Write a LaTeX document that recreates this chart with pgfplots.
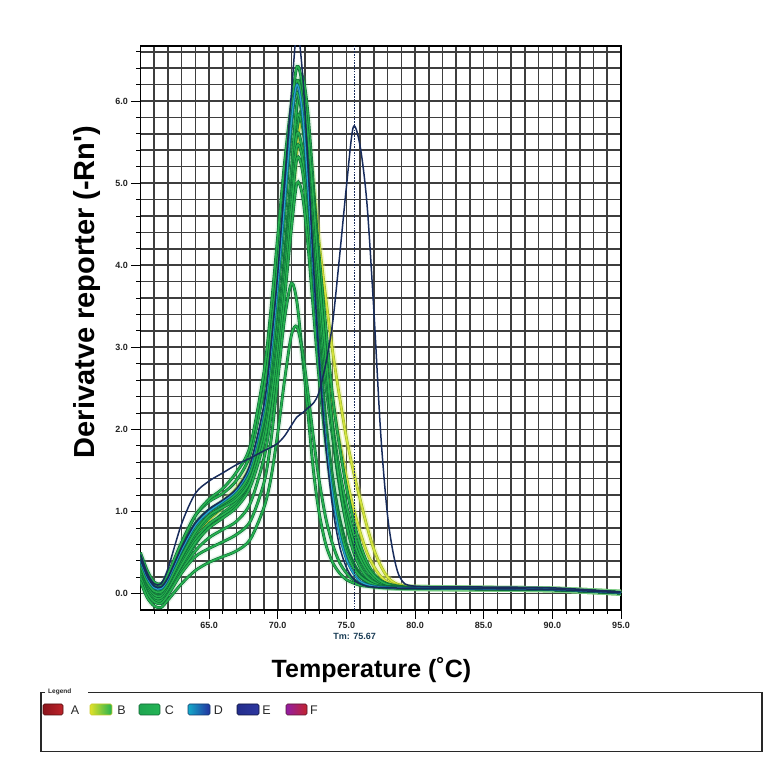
\documentclass[border=0pt]{standalone}
\usepackage{fontspec}
\setmainfont{Liberation Sans}
\usepackage{pgfplots}
\pgfplotsset{compat=1.18}
\usepackage{pgfplotstable}

\definecolor{gridc}{RGB}{62,62,62}
\definecolor{gdark}{RGB}{12,105,55}
\definecolor{glight}{RGB}{38,176,78}
\definecolor{navyc}{RGB}{24,44,92}
\definecolor{ydark}{RGB}{150,185,35}
\definecolor{ylight}{RGB}{214,226,62}
\definecolor{tdark}{RGB}{10,95,125}
\definecolor{tlight}{RGB}{40,165,205}
\definecolor{tickc}{RGB}{35,35,35}
\definecolor{tmc}{RGB}{25,60,85}
\definecolor{legc}{RGB}{40,40,40}
\definecolor{haloc}{RGB}{110,200,130}
\definecolor{haloy}{RGB}{225,230,110}

\pgfplotstableread{
x    g1    g2   g3    g4    g5    g6    g7    g8    g9    g10   g11   l1    l2    y1   y2   d1    n1    e1
60   0.45  0.30 0.40  0.25  0.50  0.20  0.35  0.42  0.28  0.38  0.22  0.20  0.15  0.30 0.35 0.40  0.42  0.48
60.5 0.25  0.12 0.18  0.05  0.28  0.02  0.14  0.20  0.08  0.17  0.02  0.00  -0.05 0.10 0.14 0.19  0.21  0.25
61   0.12  0.02 0.06  -0.05 0.14  -0.08 0.03  0.08  -0.02 0.05  -0.08 -0.10 -0.15 0.00 0.04 0.07  0.09  0.12
61.5 0.10  0.00 0.05  -0.06 0.12  -0.10 0.02  0.07  -0.03 0.04  -0.09 -0.12 -0.17 0.00 0.03 0.06  0.08  0.12
62   0.22  0.10 0.16  0.04  0.24  0.00  0.12  0.18  0.07  0.15  0.00  -0.02 -0.08 0.10 0.14 0.17  0.19  0.30
63   0.62  0.42 0.52  0.35  0.62  0.30  0.45  0.55  0.38  0.50  0.28  0.25  0.12  0.42 0.48 0.53  0.56  0.85
64   0.95  0.72 0.85  0.62  0.95  0.60  0.75  0.85  0.66  0.80  0.52  0.45  0.28  0.72 0.80 0.83  0.86  1.22
65   1.12  0.92 1.02  0.80  1.15  0.82  0.95  1.00  0.85  0.95  0.68  0.55  0.38  0.90 0.98 1.00  1.03  1.37
66   1.22  1.05 1.12  0.92  1.28  0.98  1.05  1.10  0.96  1.06  0.78  0.63  0.45  1.05 1.12 1.12  1.14  1.47
67   1.38  1.18 1.25  1.05  1.48  1.12  1.15  1.22  1.08  1.18  0.88  0.72  0.52  1.20 1.28 1.26  1.28  1.57
68   1.70  1.42 1.50  1.30  1.80  1.38  1.38  1.48  1.32  1.44  1.10  0.88  0.66  1.45 1.55 1.55  1.58  1.65
69   2.50  1.95 2.10  1.85  2.70  1.90  1.95  2.15  1.90  2.00  1.65  1.35  1.05  1.95 2.05 2.25  2.30  1.74
69.5 3.20  2.45 2.60  2.35  3.45  2.40  2.45  2.75  2.40  2.50  2.15  1.85  1.40  2.40 2.50 2.90  3.00  1.78
70   4.05  3.15 3.25  3.00  4.35  3.05  3.10  3.60  3.10  3.20  2.80  2.60  1.95  3.00 3.10 3.75  3.90  1.83
70.5 5.00  4.05 4.05  3.80  5.25  3.95  3.95  4.60  4.00  4.10  3.60  3.35  2.60  3.85 3.90 4.75  5.00  1.92
71   5.90  5.10 4.95  4.70  5.95  4.95  4.85  5.70  5.05  5.15  4.45  3.78  3.15  4.80 4.75 5.75  6.10  2.05
71.4 6.42  5.95 5.60  5.30  6.10  5.65  5.45  6.25  5.80  5.95  5.00  3.55  3.25  5.50 5.40 6.20  6.85  2.15
71.8 6.20  6.30 5.40  5.15  5.80  5.90  5.30  6.00  5.70  6.00  4.85  2.90  2.95  5.80 5.45 5.85  6.35  2.20
72.2 5.60  5.85 4.70  4.50  5.00  5.55  4.65  5.20  5.10  5.45  4.25  2.20  2.45  5.50 5.00 4.95  5.25  2.26
72.6 4.80  4.95 3.80  3.65  4.00  4.90  3.75  4.15  4.25  4.55  3.45  1.50  1.90  4.95 4.35 3.90  4.00  2.32
73   3.90  3.95 2.95  2.80  3.00  4.15  2.90  3.15  3.40  3.65  2.65  1.00  1.40  4.30 3.70 2.90  2.90  2.45
73.5 2.90  2.85 2.05  1.95  2.00  3.25  2.00  2.10  2.55  2.70  1.85  0.60  0.92  3.60 2.95 1.90  1.80  2.80
74   2.00  1.95 1.40  1.30  1.30  2.40  1.35  1.40  1.90  2.05  1.25  0.38  0.60  2.95 2.35 1.20  1.05  3.30
74.5 1.35  1.30 0.92  0.85  0.82  1.80  0.88  0.88  1.35  1.50  0.82  0.25  0.38  2.40 1.85 0.72  0.58  4.10
75   0.85  0.85 0.60  0.55  0.50  1.30  0.56  0.55  0.95  1.08  0.52  0.17  0.25  1.90 1.42 0.42  0.32  4.95
75.5 0.52  0.55 0.38  0.35  0.32  0.90  0.36  0.34  0.65  0.75  0.33  0.13  0.17  1.50 1.05 0.25  0.18  5.68
76   0.32  0.35 0.24  0.22  0.21  0.60  0.23  0.21  0.43  0.50  0.21  0.10  0.13  1.15 0.75 0.15  0.12  5.45
76.5 0.20  0.22 0.16  0.15  0.15  0.38  0.15  0.14  0.28  0.33  0.14  0.09  0.10  0.82 0.50 0.11  0.09  4.75
77   0.14  0.15 0.12  0.11  0.11  0.24  0.11  0.11  0.19  0.22  0.10  0.08  0.09  0.54 0.33 0.09  0.08  3.45
77.5 0.10  0.11 0.10  0.09  0.09  0.16  0.09  0.09  0.13  0.15  0.09  0.075 0.08  0.34 0.21 0.08  0.075 1.95
78   0.085 0.09 0.085 0.08  0.08  0.12  0.08  0.08  0.10  0.11  0.08  0.07  0.075 0.20 0.14 0.075 0.07  0.95
78.5 0.08  0.08 0.08  0.075 0.075 0.10  0.075 0.075 0.09  0.09  0.075 0.07  0.07  0.13 0.11 0.07  0.07  0.42
79   0.075 0.075 0.075 0.07 0.07  0.085 0.07  0.07  0.08  0.08  0.07  0.07  0.07  0.10 0.09 0.07  0.065 0.17
80   0.07  0.07 0.07  0.065 0.07  0.075 0.07  0.07  0.07  0.07  0.065 0.065 0.065 0.075 0.07 0.065 0.065 0.09
85   0.06  0.06 0.06  0.06  0.06  0.06  0.06  0.06  0.06  0.06  0.06  0.06  0.06  0.06 0.06 0.06  0.06  0.08
90   0.05  0.05 0.05  0.05  0.05  0.05  0.05  0.05  0.05  0.05  0.05  0.05  0.05  0.05 0.05 0.05  0.05  0.07
95   0.01  0.01 0.01  0.01  0.01  0.01  0.01  0.01  0.01  0.01  0.01  0.01  0.01  0.01 0.01 0.01  0.01  0.02
}\curves

\pgfplotsset{
  gc/.style={smooth, draw=gdark, double=glight, double distance=1.7pt, line width=0.6pt},
  yc/.style={smooth, draw=ydark, double=ylight, double distance=1.6pt, line width=0.6pt},
  tc/.style={smooth, draw=tdark, double=tlight, double distance=1.2pt, line width=0.6pt},
  nc/.style={smooth, draw=navyc, line width=1.5pt},
  halo/.style={smooth, draw=haloc, line width=6pt, opacity=0.18},
  haloyel/.style={smooth, draw=haloy, line width=6pt, opacity=0.35},
}

\begin{document}
\begin{tikzpicture}
\useasboundingbox (0pt,0pt) rectangle (771pt,782pt);
\begin{axis}[
  at={(140.4pt,172pt)}, anchor=south west,
  width=480.6pt, height=564pt, scale only axis,
  xmin=60, xmax=95, ymin=-0.2, ymax=6.67,
  xtick={65,70,75,80,85,90,95},
  ytick={0,1,2,3,4,5,6},
  minor xtick={61,62,63,64,66,67,68,69,71,72,73,74,76,77,78,79,81,82,83,84,86,87,88,89,91,92,93,94},
  minor ytick={0.2,0.4,0.6,0.8,1.2,1.4,1.6,1.8,2.2,2.4,2.6,2.8,3.2,3.4,3.6,3.8,4.2,4.4,4.6,4.8,5.2,5.4,5.6,5.8,6.2,6.4,6.6},
  grid=both,
  major grid style={line width=1.6pt, draw=gridc},
  minor grid style={line width=1.6pt, draw=gridc},
  tick align=outside, xtick pos=bottom, ytick pos=left,
  major tick length=9pt, minor tick length=4pt,
  every tick/.style={black, line width=0.8pt},
  axis line style={line width=1.5pt, black},
  tick label style={font=\fontsize{9}{10}\selectfont\bfseries, text=tickc},
  /pgf/number format/fixed, /pgf/number format/fixed zerofill,
  /pgf/number format/precision=1, /pgf/number format/assume math mode=true,
  xlabel={Temperature (˚C)},
  ylabel={Derivatve reporter (-Rn\textquotesingle)},
  xlabel style={at={(rel axis cs:0.4809,-0.1188)}, anchor=base, font=\fontsize{25}{30}\selectfont\bfseries},
  ylabel style={at={(rel axis cs:-0.0959,0.5638)}, anchor=base, font=\fontsize{29}{34}\selectfont\bfseries},
]
\pgfplotsinvokeforeach{y1,y2}{\addplot[haloyel] table[x=x, y=#1] {\curves};}
\pgfplotsinvokeforeach{g1,g2,g3,g4,g5,g6,g7,g8,g9,g10,g11,l1,l2,d1}{\addplot[halo] table[x=x, y=#1] {\curves};}
\addplot[yc] table[x=x, y=y1] {\curves};
\addplot[yc] table[x=x, y=y2] {\curves};
\addplot[gc] table[x=x, y=g6] {\curves};
\addplot[gc] table[x=x, y=g2] {\curves};
\addplot[gc] table[x=x, y=g9] {\curves};
\addplot[gc] table[x=x, y=g10] {\curves};
\addplot[gc] table[x=x, y=g3] {\curves};
\addplot[gc] table[x=x, y=g7] {\curves};
\addplot[gc] table[x=x, y=g4] {\curves};
\addplot[gc] table[x=x, y=g11] {\curves};
\addplot[gc] table[x=x, y=g8] {\curves};
\addplot[gc] table[x=x, y=g1] {\curves};
\addplot[gc] table[x=x, y=g5] {\curves};
\addplot[gc] table[x=x, y=l1] {\curves};
\addplot[gc] table[x=x, y=l2] {\curves};
\addplot[tc] table[x=x, y=d1] {\curves};
\addplot[nc] table[x=x, y=n1] {\curves};
\addplot[nc] table[x=x, y=e1] {\curves};
\addplot[navyc, line width=1.2pt, dash pattern=on 1.6pt off 1.2pt] coordinates {(75.6,-0.2) (75.6,6.67)};
\coordinate (tm) at (axis cs:75.6,-0.2);
\end{axis}
\node[font=\fontsize{9}{10}\selectfont\bfseries, text=tmc] at ([yshift=-26pt]tm) {Tm: 75.67};

% legend panel
\draw[line width=1.1pt, draw=legc] (45pt,89.3pt) -- (41pt,89.3pt) -- (41pt,30.3pt) -- (762pt,30.3pt) -- (762pt,89.3pt) -- (88pt,89.3pt);
\node[font=\fontsize{6.5}{7}\selectfont\bfseries, anchor=west, inner sep=0pt, text=legc] at (48pt,90pt) {Legend};
\shadedraw[rounded corners=1.5pt, left color={rgb,255:red,140;green,20;blue,28}, right color={rgb,255:red,190;green,35;blue,42}, draw={rgb,255:red,80;green,15;blue,15}, line width=0.6pt] (43pt,67pt) rectangle (63pt,78pt);
\shadedraw[rounded corners=1.5pt, left color={rgb,255:red,225;green,225;blue,40}, right color={rgb,255:red,35;green,178;blue,80}, draw={rgb,255:red,200;green,200;blue,40}, line width=0.6pt] (90pt,67pt) rectangle (112pt,78pt);
\shadedraw[rounded corners=1.5pt, left color={rgb,255:red,30;green,165;blue,80}, right color={rgb,255:red,35;green,180;blue,85}, draw={rgb,255:red,15;green,100;blue,50}, line width=0.6pt] (139pt,67pt) rectangle (160pt,78pt);
\shadedraw[rounded corners=1.5pt, left color={rgb,255:red,20;green,170;blue,200}, right color={rgb,255:red,35;green,50;blue,160}, draw={rgb,255:red,20;green,60;blue,110}, line width=0.6pt] (188pt,67pt) rectangle (210pt,78pt);
\shadedraw[rounded corners=1.5pt, left color={rgb,255:red,35;green,45;blue,140}, right color={rgb,255:red,45;green,55;blue,160}, draw={rgb,255:red,15;green,20;blue,60}, line width=0.6pt] (237pt,67pt) rectangle (259pt,78pt);
\shadedraw[rounded corners=1.5pt, left color={rgb,255:red,145;green,30;blue,165}, right color={rgb,255:red,195;green,35;blue,45}, draw={rgb,255:red,90;green,20;blue,50}, line width=0.6pt] (286pt,67pt) rectangle (307pt,78pt);
\foreach \lx/\lt in {75/A,121.5/B,169.5/C,218.5/D,266.5/E,314/F}{
  \node[font=\fontsize{12.5}{14}\selectfont, text=legc, anchor=base] at (\lx pt,67.7pt) {\lt};
}
\end{tikzpicture}
\end{document}
